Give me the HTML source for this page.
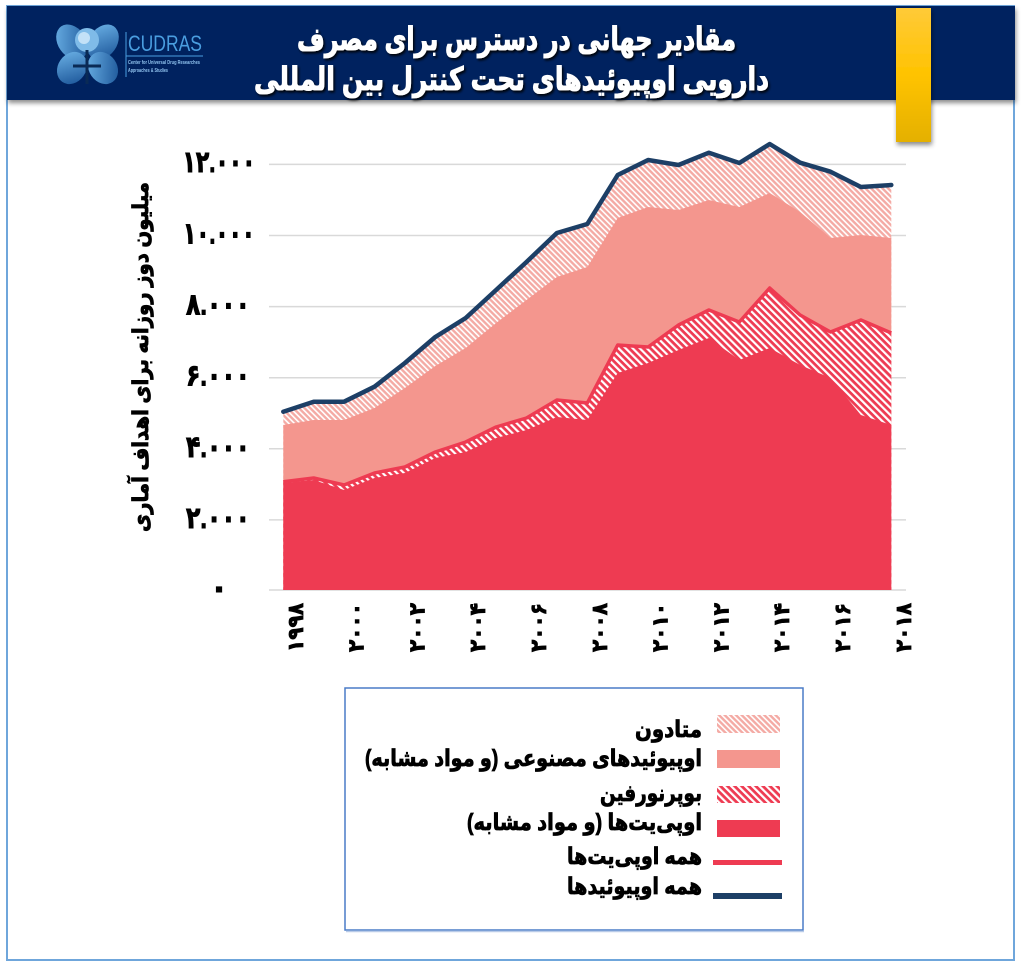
<!DOCTYPE html>
<html><head><meta charset="utf-8"><style>
html,body{margin:0;padding:0;background:#fff;}
svg{display:block;}
text{font-family:"Liberation Sans","DejaVu Sans",sans-serif;font-weight:bold;}
</style></head><body>
<svg width="1024" height="963" viewBox="0 0 1024 963" xmlns="http://www.w3.org/2000/svg">
<defs>
 <pattern id="pm" width="4" height="4" patternUnits="userSpaceOnUse" patternTransform="rotate(-45)">
  <rect width="4" height="4" fill="#f4aaa4"/><rect width="1.6" height="4" fill="#ffffff"/>
 </pattern>
 <pattern id="pb" width="5" height="5" patternUnits="userSpaceOnUse" patternTransform="rotate(-45)">
  <rect width="5" height="5" fill="#ee3b52"/><rect width="2.2" height="5" fill="#ffffff"/>
 </pattern>
 <linearGradient id="yg" x1="0" y1="0" x2="0" y2="1">
  <stop offset="0" stop-color="#ffca38"/><stop offset="0.5" stop-color="#ffc300"/><stop offset="1" stop-color="#e4b000"/>
 </linearGradient>
 <linearGradient id="lb" x1="0" y1="0" x2="1" y2="1">
  <stop offset="0" stop-color="#6fb6ea"/><stop offset="1" stop-color="#164f93"/>
 </linearGradient>
 <filter id="sh" x="-10%" y="-10%" width="130%" height="140%">
  <feDropShadow dx="1" dy="3" stdDeviation="2.5" flood-color="#000" flood-opacity="0.45"/>
 </filter>
 <filter id="tsh" x="-5%" y="-20%" width="110%" height="150%">
  <feDropShadow dx="1.5" dy="2" stdDeviation="1.2" flood-color="#000" flood-opacity="0.9"/>
 </filter>
</defs>

<rect width="1024" height="963" fill="#fff"/>
<!-- outer border -->
<rect x="7" y="6" width="1007" height="954" fill="none" stroke="#6fa6db" stroke-width="2"/>

<!-- header -->
<rect x="7" y="6" width="1008" height="94" fill="#03205f" filter="url(#sh)"/>
<rect x="896" y="8" width="35" height="134" fill="url(#yg)" filter="url(#sh)"/>

<!-- logo -->
<g>
 <ellipse cx="72" cy="42" rx="14" ry="19" fill="url(#lb)" transform="rotate(-35 72 42)"/>
 <ellipse cx="103" cy="42" rx="14" ry="19" fill="url(#lb)" transform="rotate(35 103 42)"/>
 <ellipse cx="72" cy="68" rx="14" ry="17" fill="url(#lb)" transform="rotate(35 72 68)"/>
 <ellipse cx="103" cy="68" rx="14" ry="17" fill="url(#lb)" transform="rotate(-35 103 68)"/>
 <circle cx="87" cy="40" r="12" fill="#7fbbe8"/>
 <circle cx="84" cy="38" r="6" fill="#d5ebfa" opacity="0.8"/>
 <line x1="87" y1="50" x2="87" y2="84" stroke="#0a2a55" stroke-width="3"/>
 <line x1="73" y1="66" x2="101" y2="66" stroke="#0a2a55" stroke-width="3"/>
 <line x1="126" y1="32" x2="126" y2="77" stroke="#4a9ee0" stroke-width="1"/>
 <line x1="126" y1="56" x2="203" y2="56" stroke="#4a9ee0" stroke-width="1"/>
 <text x="128" y="51" font-size="22" textLength="74" lengthAdjust="spacingAndGlyphs" fill="#4a9ee0" style="font-weight:normal">CUDRAS</text>
 <text x="128" y="64" font-size="5.5" textLength="72" lengthAdjust="spacingAndGlyphs" fill="#8fc2ee">Center for Universal Drug Researches</text>
 <text x="128" y="72" font-size="5.5" textLength="40" lengthAdjust="spacingAndGlyphs" fill="#8fc2ee">Approaches &amp; Studies</text>
</g>

<!-- title -->
<g filter="url(#tsh)" fill="#fff" stroke="#fff" stroke-width="1">
 <text x="516.5" y="50" font-size="32" text-anchor="middle" direction="rtl" textLength="439" lengthAdjust="spacingAndGlyphs">مقادیر جهانی در دسترس برای مصرف</text>
 <text x="511.5" y="90" font-size="32" text-anchor="middle" direction="rtl" textLength="515" lengthAdjust="spacingAndGlyphs">دارویی اوپیوئیدهای تحت کنترل بین المللی</text>
</g>

<!-- gridlines -->
<g stroke="#d9d9d9" stroke-width="1.5">
 <line x1="269" y1="164.4" x2="906" y2="164.4"/>
 <line x1="269" y1="235.5" x2="906" y2="235.5"/>
 <line x1="269" y1="306.6" x2="906" y2="306.6"/>
 <line x1="269" y1="377.7" x2="906" y2="377.7"/>
 <line x1="269" y1="448.8" x2="906" y2="448.8"/>
 <line x1="269" y1="519.9" x2="906" y2="519.9"/>
 <line x1="269" y1="590" x2="906" y2="590"/>
</g>

<!-- areas -->
<polygon fill="url(#pm)" points="283.3,411.7 313.7,401.7 344.1,401.7 374.5,386.7 404.9,363 435.3,337 465.7,318 496.1,290 526.5,262 556.9,233 587.3,224 617.7,175 648.1,160 678.5,165 708.9,152.7 739.3,163 769.7,144 800.1,162.7 830.5,171.7 860.9,187 891.3,185 891.3,590 283.3,590"/>
<polygon fill="#f4968e" points="283.3,425 313.7,420 344.1,420 374.5,408 404.9,388 435.3,366 465.7,348 496.1,323 526.5,300 556.9,277 587.3,267 617.7,218 648.1,207 678.5,210 708.9,200 739.3,207 769.7,193 800.1,212 830.5,238 860.9,235 891.3,238 891.3,590 283.3,590"/>
<polygon fill="url(#pb)" points="283.3,481.7 313.7,478 344.1,485 374.5,473 404.9,467 435.3,452 465.7,442 496.1,427 526.5,418 556.9,400 587.3,403 617.7,345 648.1,347 678.5,325 708.9,310 739.3,322 769.7,288 800.1,315 830.5,332 860.9,320 891.3,333 891.3,590 283.3,590"/>
<polygon fill="#ee3b52" points="283.3,483 313.7,480 344.1,490 374.5,478 404.9,473 435.3,458 465.7,452 496.1,438 526.5,430 556.9,417 587.3,420 617.7,373 648.1,363 678.5,350 708.9,338 739.3,360 769.7,348 800.1,365 830.5,378 860.9,415 891.3,425 891.3,590 283.3,590"/>

<!-- lines -->
<polyline fill="none" stroke="#ee3b52" stroke-width="3.5" stroke-linejoin="round" points="283.3,481.7 313.7,478 344.1,485 374.5,473 404.9,467 435.3,452 465.7,442 496.1,427 526.5,418 556.9,400 587.3,403 617.7,345 648.1,347 678.5,325 708.9,310 739.3,322 769.7,288 800.1,315 830.5,332 860.9,320 891.3,333"/>
<polyline fill="none" stroke="#1d3f66" stroke-width="4.5" stroke-linejoin="round" stroke-linecap="round" points="283.3,411.7 313.7,401.7 344.1,401.7 374.5,386.7 404.9,363 435.3,337 465.7,318 496.1,290 526.5,262 556.9,233 587.3,224 617.7,175 648.1,160 678.5,165 708.9,152.7 739.3,163 769.7,144 800.1,162.7 830.5,171.7 860.9,187 891.3,185"/>

<!-- y tick labels -->
<g font-size="30" fill="#000" stroke="#000" stroke-width="1" text-anchor="middle">
 <text x="219" y="172" textLength="73" lengthAdjust="spacingAndGlyphs">۱۲.۰۰۰</text>
 <text x="219" y="243.5" textLength="72" lengthAdjust="spacingAndGlyphs">۱۰.۰۰۰</text>
 <text x="218" y="314.6" textLength="64" lengthAdjust="spacingAndGlyphs">۸.۰۰۰</text>
 <text x="218" y="385.7" textLength="64" lengthAdjust="spacingAndGlyphs">۶.۰۰۰</text>
 <text x="218" y="456.8" textLength="64" lengthAdjust="spacingAndGlyphs">۴.۰۰۰</text>
 <text x="218" y="527.9" textLength="64" lengthAdjust="spacingAndGlyphs">۲.۰۰۰</text>
 <text x="219" y="598">۰</text>
</g>

<!-- y axis title -->
<text transform="translate(148,357) rotate(-90)" font-size="22" text-anchor="middle" direction="rtl" textLength="350" lengthAdjust="spacingAndGlyphs" fill="#000" stroke="#000" stroke-width="0.8">میلیون دوز روزانه برای اهداف آماری</text>

<!-- x labels -->
<g font-size="22" fill="#000" stroke="#000" stroke-width="0.8" text-anchor="middle">
 <text transform="translate(302.8,627.5) rotate(-90)" textLength="49" lengthAdjust="spacingAndGlyphs">۱۹۹۸</text>
 <text transform="translate(363.6,627.5) rotate(-90)" textLength="49" lengthAdjust="spacingAndGlyphs">۲۰۰۰</text>
 <text transform="translate(424.4,627.5) rotate(-90)" textLength="49" lengthAdjust="spacingAndGlyphs">۲۰۰۲</text>
 <text transform="translate(485.2,627.5) rotate(-90)" textLength="49" lengthAdjust="spacingAndGlyphs">۲۰۰۴</text>
 <text transform="translate(546,627.5) rotate(-90)" textLength="49" lengthAdjust="spacingAndGlyphs">۲۰۰۶</text>
 <text transform="translate(606.8,627.5) rotate(-90)" textLength="49" lengthAdjust="spacingAndGlyphs">۲۰۰۸</text>
 <text transform="translate(667.6,627.5) rotate(-90)" textLength="49" lengthAdjust="spacingAndGlyphs">۲۰۱۰</text>
 <text transform="translate(728.4,627.5) rotate(-90)" textLength="49" lengthAdjust="spacingAndGlyphs">۲۰۱۲</text>
 <text transform="translate(789.2,627.5) rotate(-90)" textLength="49" lengthAdjust="spacingAndGlyphs">۲۰۱۴</text>
 <text transform="translate(850,627.5) rotate(-90)" textLength="49" lengthAdjust="spacingAndGlyphs">۲۰۱۶</text>
 <text transform="translate(910.8,627.5) rotate(-90)" textLength="49" lengthAdjust="spacingAndGlyphs">۲۰۱۸</text>
</g>

<!-- legend -->
<rect x="345" y="688" width="458" height="242" fill="#fff" stroke="#4a7cc7" stroke-width="1.5"/>
<line x1="346" y1="931.5" x2="804" y2="931.5" stroke="#b9cbe8" stroke-width="1.5"/>
<rect x="717" y="715" width="63" height="18" fill="url(#pm)"/>
<rect x="717" y="750" width="63" height="18" fill="#f4968e"/>
<rect x="717" y="786" width="63" height="17" fill="url(#pb)"/>
<rect x="717" y="820" width="63" height="17" fill="#ee3b52"/>
<line x1="713" y1="862.5" x2="782" y2="862.5" stroke="#ee3b52" stroke-width="5"/>
<line x1="713" y1="896" x2="782" y2="896" stroke="#1d3f66" stroke-width="6"/>
<g font-size="23" fill="#000" stroke="#000" stroke-width="0.8" text-anchor="middle" direction="rtl">
 <text x="668.5" y="737" textLength="67" lengthAdjust="spacingAndGlyphs">متادون</text>
 <text x="533.5" y="766" textLength="337" lengthAdjust="spacingAndGlyphs">اوپیوئیدهای مصنوعی (و مواد مشابه)</text>
 <text x="651" y="801" textLength="102" lengthAdjust="spacingAndGlyphs">بوپرنورفین</text>
 <text x="584.5" y="830" textLength="235" lengthAdjust="spacingAndGlyphs">اوپی‌یت‌ها (و مواد مشابه)</text>
 <text x="634.5" y="864" textLength="135" lengthAdjust="spacingAndGlyphs">همه اوپی‌یت‌ها</text>
 <text x="634.5" y="894" textLength="135" lengthAdjust="spacingAndGlyphs">همه اوپیوئیدها</text>
</g>
</svg>
</body></html>
